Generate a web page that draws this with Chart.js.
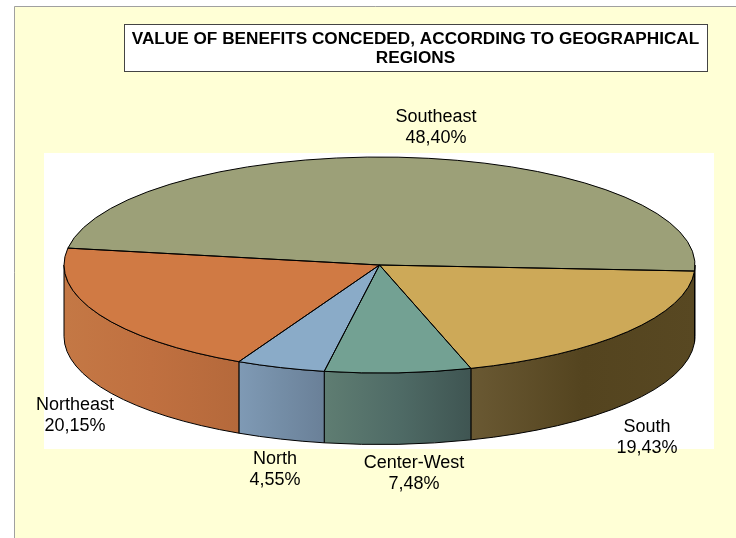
<!DOCTYPE html>
<html>
<head>
<meta charset="utf-8">
<style>
  html, body { margin: 0; padding: 0; background: #fff; }
  canvas { display: block; }
</style>
<script src="https://cdn.jsdelivr.net/npm/chart.js@4"></script>
</head>
<body>
<canvas id="benefitsChart" width="736" height="538"></canvas>
<script>
const regions = ['Southeast', 'South', 'Center-West', 'North', 'Northeast'];
const shares = [48.40, 19.43, 7.48, 4.55, 20.15];
const titleLines = ['VALUE OF BENEFITS CONCEDED, ACCORDING TO GEOGRAPHICAL', 'REGIONS'];

const topColors = ['#9ca078', '#cda958', '#73a193', '#8aabc8', '#d07a44'];
// left, middle and right colour of each slice's outer wall
const wallColors = [
  ['#5c5e42', '#5c5e42', '#5c5e42'],
  ['#6a5933', '#54441f', '#584822'],
  ['#5f7d72', '#4f6b66', '#3f5552'],
  ['#7f9ab5', '#748da6', '#6a8098'],
  ['#c47845', '#c07040', '#b5693b'],
];
// label centres, in page pixels
const labelSpots = [[436, 117], [647, 427], [414, 463], [275, 459], [75, 405]];

// how the flat pie is laid down as a disc
const disc = { x: 379.5, y: 265, rx: 315.5, ry: 108, depth: 71.5 };

const backdrop = {
  id: 'backdrop',
  beforeDraw(chart) {
    const ctx = chart.ctx;
    ctx.save();
    ctx.fillStyle = '#ffffd6';
    ctx.fillRect(14, 6, 722, 532);
    ctx.strokeStyle = '#a0a0a0';
    ctx.lineWidth = 1;
    ctx.beginPath();
    ctx.moveTo(14.5, 538);
    ctx.lineTo(14.5, 6.5);
    ctx.lineTo(736, 6.5);
    ctx.stroke();
    ctx.fillStyle = '#ffffff';
    ctx.fillRect(44, 153, 670, 296);

    // title box
    ctx.fillStyle = '#ffffff';
    ctx.fillRect(124, 24, 583, 47);
    ctx.strokeStyle = '#444';
    ctx.strokeRect(124.5, 24.5, 583, 47);
    ctx.fillStyle = '#000';
    ctx.font = 'bold 17.2px "Liberation Sans"';
    ctx.textAlign = 'center';
    ctx.textBaseline = 'middle';
    ctx.fillText(titleLines[0], 415.5, 39);
    ctx.fillText(titleLines[1], 415.5, 58);
    ctx.restore();
  },
};

function wrapAngle(arc) {
  // keep only the front half of the rim: canvas angles 0..180 (or 360..540)
  const parts = [];
  [0, Math.PI * 2].forEach((base) => {
    const a0 = Math.max(arc.startAngle, base);
    const a1 = Math.min(arc.endAngle, base + Math.PI);
    if (a1 > a0) parts.push([a0, a1]);
  });
  return parts;
}

const pieDisc = {
  id: 'pieDisc',
  beforeDatasetsDraw(chart) {
    const ctx = chart.ctx;
    const arcs = chart.getDatasetMeta(0).data;

    // walls first, the top of the pie goes over them
    ctx.save();
    ctx.strokeStyle = '#000';
    ctx.lineWidth = 1;
    arcs.forEach((arc, i) => {
      wrapAngle(arc).forEach(([a0, a1]) => {
        const x0 = disc.x + disc.rx * Math.cos(a0);
        const x1 = disc.x + disc.rx * Math.cos(a1);
        const grad = ctx.createLinearGradient(Math.min(x0, x1), 0, Math.max(x0, x1), 0);
        // angle runs right to left along the front, the colours left to right
        grad.addColorStop(0, wallColors[i][0]);
        grad.addColorStop(0.5, wallColors[i][1]);
        grad.addColorStop(1, wallColors[i][2]);
        ctx.fillStyle = grad;
        ctx.beginPath();
        ctx.ellipse(disc.x, disc.y, disc.rx, disc.ry, 0, a0, a1);
        ctx.ellipse(disc.x, disc.y + disc.depth, disc.rx, disc.ry, 0, a1, a0, true);
        ctx.closePath();
        ctx.fill();
        ctx.stroke();
      });
    });
    ctx.restore();

    // squash the circle the library draws into the disc top
    const r = arcs[0].outerRadius;
    ctx.save();
    ctx.translate(disc.x, disc.y);
    ctx.scale(disc.rx / r, disc.ry / r);
    ctx.translate(-arcs[0].x, -arcs[0].y);
  },
  afterDatasetsDraw(chart) {
    const ctx = chart.ctx;
    ctx.restore();

    const arcs = chart.getDatasetMeta(0).data;
    ctx.save();
    ctx.strokeStyle = '#000';
    ctx.lineWidth = 1;
    arcs.forEach((arc) => {
      ctx.beginPath();
      ctx.moveTo(disc.x, disc.y);
      ctx.ellipse(disc.x, disc.y, disc.rx, disc.ry, 0, arc.startAngle, arc.endAngle);
      ctx.closePath();
      ctx.stroke();
    });
    ctx.restore();

    // region labels
    ctx.save();
    ctx.fillStyle = '#000';
    ctx.font = '18px "Liberation Sans"';
    ctx.textAlign = 'center';
    ctx.textBaseline = 'middle';
    regions.forEach((name, i) => {
      const [x, y] = labelSpots[i];
      ctx.fillText(name, x, y);
      ctx.fillText(shares[i].toFixed(2).replace('.', ',') + '%', x, y + 21);
    });
    ctx.restore();
  },
};

new Chart(document.getElementById('benefitsChart'), {
  type: 'pie',
  data: {
    labels: regions,
    datasets: [{
      data: shares,
      backgroundColor: topColors,
      borderWidth: 0,
    }],
  },
  options: {
    responsive: false,
    animation: false,
    rotation: 279,
    plugins: {
      legend: { display: false },
      tooltip: { enabled: false },
      title: { display: false },
    },
  },
  plugins: [backdrop, pieDisc],
});
</script>
</body>
</html>
